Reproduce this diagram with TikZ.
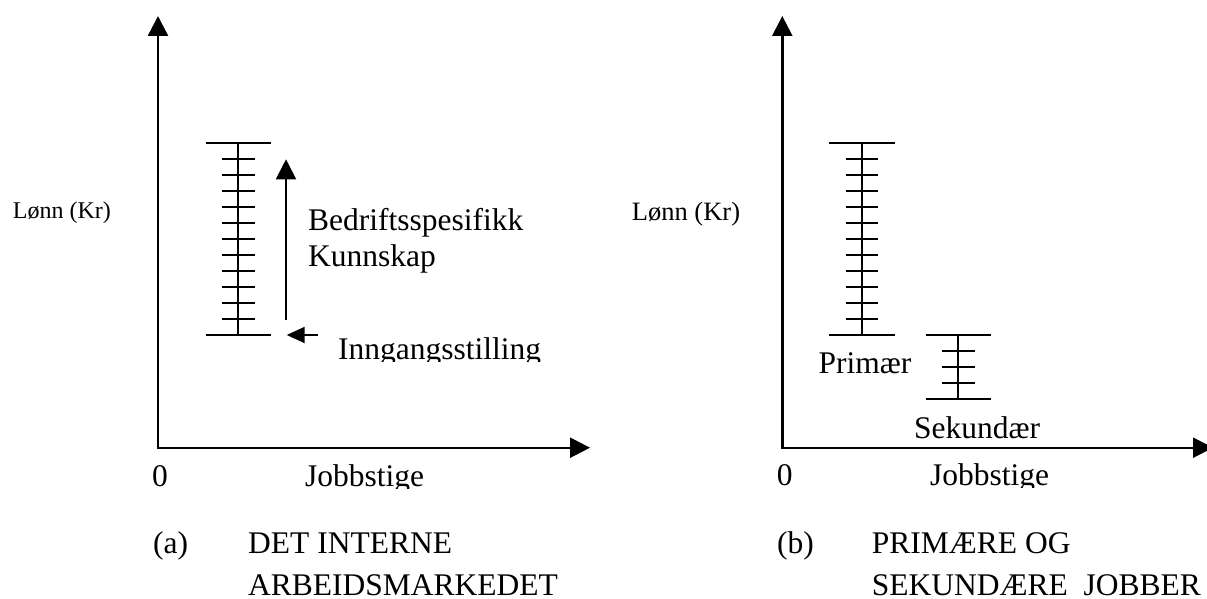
\documentclass[tikz,border=0pt]{standalone}
\usepackage{fontspec}
\setmainfont{Liberation Serif}
\usetikzlibrary{arrows.meta}
\newcommand\drawladder[4]{% #1 centre x, #2 top y, #3 intervals, #4 prefix
  \coordinate (#4-top) at (#1,#2);
  \coordinate (#4-bot) at (#1,#2+#3*15.98);
  \draw[rung] (#4-top) -- (#4-bot);
  \draw[rung] ([xshift=-32.8pt]#4-top) -- ([xshift=32.8pt]#4-top);
  \draw[rung] ([xshift=-32.8pt]#4-bot) -- ([xshift=32.8pt]#4-bot);
  \pgfmathtruncatemacro\lastrung{#3-1}
  \foreach \i in {1,...,\lastrung}{
    \draw[rung] ([xshift=-16.3pt,yshift=-\i*15.98pt]#4-top) -- ([xshift=16.3pt,yshift=-\i*15.98pt]#4-top);
  }%
}
\begin{document}
\begin{tikzpicture}[x=1pt,y=-1pt,
  axis/.style={line width=2.4pt, line join=miter,
    {Triangle[length=20pt,width=20pt]}-{Triangle[length=20pt,width=20pt]}},
  rung/.style={line width=2pt},
  bigarrow/.style={line width=2pt, -{Triangle[length=20pt,width=20pt]}},
  smallarrow/.style={line width=2pt, -{Triangle[length=18pt,width=16pt]}},
  lbl/.style={inner sep=0pt, anchor=base west, font=\fontsize{31.5}{36}\selectfont},
  ylbl/.style={inner sep=0pt, anchor=base west, font=\fontsize{#1}{#1}\selectfont},
]
\fill[white] (0,0) rectangle (1207,599);
\clip (0,0) rectangle (1207,599);

% ---------------- panel (a)
\coordinate (ya) at (158,16);
\coordinate (oa) at (158,447.7);
\coordinate (xa) at (590,447.7);
\draw[axis] (ya) -- (oa) -- (xa);

\drawladder{238.3}{143.3}{12}{la}

\coordinate (upS) at (286,320);
\coordinate (upE) at (286,159.3);
\draw[bigarrow] (upS) -- (upE);
\coordinate (lfS) at (318,335);
\coordinate (lfE) at (286.7,335);
\draw[smallarrow] (lfS) -- (lfE);

\node[ylbl=24] (lonna) at (12.7,218.3) {Lønn (Kr)};
\node[lbl] (bed1) at (308,230) {Bedriftsspesifikk};
\node[lbl] (bed2) at (308,266.6) {Kunnskap};
\begin{scope}
  \clip (330,300) rectangle (600,361);
  \node[lbl] (inng) at (338,359) {Inngangsstilling};
\end{scope}
\node[lbl] (zeroa) at (152,486) {0};
\begin{scope}
  \clip (290,440) rectangle (460,488.3);
  \node[lbl] (joba) at (305,486) {Jobbstige};
\end{scope}
\node[lbl] (capa) at (153,553) {(a)};
\node[lbl] (capa1) at (248,553) {DET INTERNE};
\node[lbl] (capa2) at (248,595) {ARBEIDSMARKEDET};

% ---------------- panel (b)
\coordinate (yb) at (782.3,16);
\coordinate (ob) at (782.3,447.7);
\coordinate (xb) at (1213,447.7);
\draw[axis] (yb) -- (ob) -- (xb);

\drawladder{861.8}{143.3}{12}{lp}
\drawladder{958.3}{335.2}{4}{ls}

\node[ylbl=26.5] (lonnb) at (631.7,220) {Lønn (Kr)};
\node[lbl] (prim) at (818.3,373.3) {Primær};
\node[lbl] (sek) at (914,438.3) {Sekundær};
\node[lbl] (zerob) at (776.7,485) {0};
\begin{scope}
  \clip (900,440) rectangle (1100,487);
  \node[lbl] (jobb) at (930,485) {Jobbstige};
\end{scope}
\node[lbl] (capb) at (777,553) {(b)};
\node[lbl] (capb1) at (871.7,553) {PRIMÆRE OG};
\node[lbl] (capb2) at (871.7,595) {SEKUNDÆRE\ \ JOBBER};
\end{tikzpicture}
\end{document}
